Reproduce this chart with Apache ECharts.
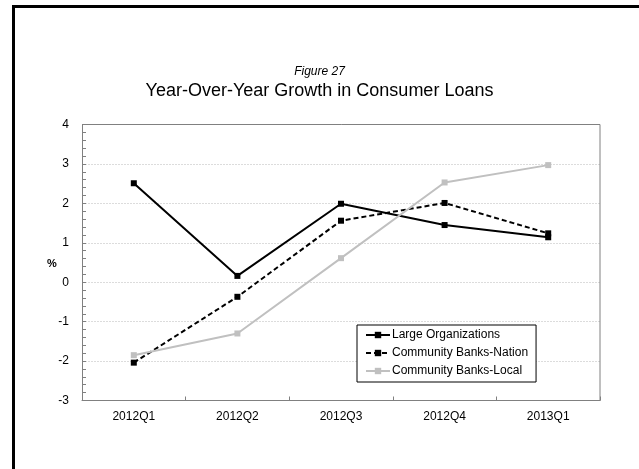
<!DOCTYPE html>
<html>
<head>
<meta charset="utf-8">
<script src="https://cdn.jsdelivr.net/npm/echarts@6/dist/echarts.min.js"></script>
<style>
  html, body { margin: 0; padding: 0; background: #fff; }
  #chart { width: 639px; height: 469px; }
</style>
</head>
<body>
<div id="chart"></div>
<script>
// Quarterly year-over-year growth in consumer loans (%)
const quarters = ['2012Q1', '2012Q2', '2012Q3', '2012Q4', '2013Q1'];
const largeOrgs = [2.51, 0.16, 1.99, 1.45, 1.14];
const communityNation = [-2.04, -0.37, 1.56, 2.01, 1.24];
const communityLocal = [-1.85, -1.30, 0.61, 2.53, 2.97];
const seriesNames = ['Large Organizations', 'Community Banks-Nation', 'Community Banks-Local'];

const font = 'Liberation Sans, Arial, sans-serif';
const chart = echarts.init(document.getElementById('chart'), null, { renderer: 'canvas' });

const plot = { left: 82, top: 124.5, right: 39, bottom: 68.5 };

function lineSeries(name, data, color, type) {
  return {
    name: name,
    type: 'line',
    data: data,
    symbol: 'rect',
    symbolSize: 6,
    showSymbol: true,
    animation: false,
    z: 5,
    lineStyle: { color: color, width: 2, type: type },
    itemStyle: { color: color, borderWidth: 0 },
    emphasis: { disabled: true }
  };
}

chart.setOption({
  backgroundColor: '#fff',
  animation: false,
  title: [
    {
      text: 'Figure 27',
      left: 'center', top: 61,
      textStyle: { fontFamily: font, fontSize: 12, fontStyle: 'italic', fontWeight: 'normal', color: '#000' }
    },
    {
      text: 'Year-Over-Year Growth in Consumer Loans',
      left: 'center', top: 77,
      textStyle: { fontFamily: font, fontSize: 18, fontWeight: 'normal', color: '#000' }
    }
  ],
  graphic: [
    {
      type: 'rect',
      shape: { x: 13.5, y: 6.5, width: 700, height: 600 },
      style: { fill: 'none', stroke: '#000', lineWidth: 3 },
      silent: true
    },
    {
      // plot-area frame drawn above the gridlines
      type: 'rect',
      z: 3,
      shape: { x: plot.left + 0.5, y: plot.top, width: 639 - plot.left - plot.right - 0.5, height: 469 - plot.top - plot.bottom },
      style: { fill: 'none', stroke: '#808080', lineWidth: 1 },
      silent: true
    },
    {
      type: 'text',
      left: 47, top: 258,
      style: { text: '%', font: 'bold 11px ' + font, fill: '#000' }
    }
  ],
  legend: {
    data: seriesNames,
    orient: 'vertical',
    left: 357, top: 325,
    padding: [4, 8, 5, 8],
    itemGap: 6,
    itemWidth: 24,
    itemHeight: 8,
    borderColor: '#000',
    borderWidth: 1,
    backgroundColor: '#fff',
    z: 10,
    textStyle: { fontFamily: font, fontSize: 12, color: '#000', padding: [0, 0, 0, -3] }
  },
  grid: { left: plot.left, top: plot.top, right: plot.right, bottom: plot.bottom, show: true, borderWidth: 0, backgroundColor: '#fff' },
  xAxis: {
    type: 'category',
    data: quarters,
    boundaryGap: true,
    axisLine: { onZero: false, lineStyle: { color: '#808080', width: 1 } },
    axisTick: { show: true, inside: true, length: 4, lineStyle: { color: '#808080' } },
    axisLabel: { fontFamily: font, fontSize: 12, color: '#000', margin: 10 },
    splitLine: { show: false }
  },
  yAxis: {
    type: 'value',
    min: -3, max: 4, interval: 1,
    axisLine: { show: true, lineStyle: { color: '#808080', width: 1 } },
    axisTick: { show: true, inside: true, length: 4, lineStyle: { color: '#808080' } },
    minorTick: { show: true, splitNumber: 5, length: 4, lineStyle: { color: '#808080' } },
    axisLabel: { fontFamily: font, fontSize: 12, color: '#000', margin: 13 },
    splitLine: { show: true, lineStyle: { color: '#dcdcdc', width: 1, type: [2, 1] } }
  },
  series: [
    lineSeries(seriesNames[0], largeOrgs, '#000', 'solid'),
    lineSeries(seriesNames[1], communityNation, '#000', [5, 3]),
    lineSeries(seriesNames[2], communityLocal, '#c0c0c0', 'solid')
  ]
});
</script>
</body>
</html>
